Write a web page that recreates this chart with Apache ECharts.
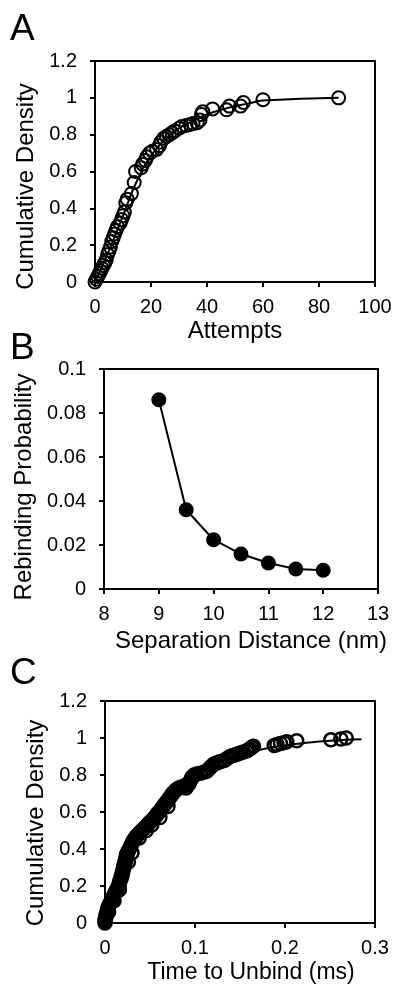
<!DOCTYPE html>
<html>
<head>
<meta charset="utf-8">
<title>Rebinding</title>
<script src="https://cdn.jsdelivr.net/npm/echarts@6.0.0/dist/echarts.min.js"></script>
<style>
html, body { margin: 0; padding: 0; background: #fff; }
#main { width: 393px; height: 988px; }
</style>
</head>
<body>
<div id="main"></div>
<script>
// A: attempts -> cumulative density (open circles + fit)
var attemptsPts = [
    [0,0],[0.5,0.015],[1,0.03],[1.5,0.045],[2,0.06],[2.5,0.075],[3,0.09],[3.5,0.105],
    [4,0.12],[4.5,0.15],[5,0.17],[5.5,0.19],[6,0.22],[6.5,0.24],[7,0.26],[7.5,0.28],
    [8,0.30],[9,0.32],[9.5,0.34],[10,0.36],[10.5,0.38],[11,0.43],[11.5,0.45],[13,0.48],
    [14,0.54],[14.5,0.60],[16.5,0.62],[17,0.64],[18,0.66],[18.5,0.68],[19.5,0.70],[20.5,0.71],
    [22,0.72],[23,0.74],[23.5,0.76],[24.5,0.78],[25.5,0.79],[26.5,0.80],[27.5,0.81],[28.5,0.82],
    [30,0.835],[31,0.845],[32.5,0.85],[34,0.855],[35,0.86],[36.5,0.865],[37.5,0.88],[38,0.91],
    [38.5,0.925],[42,0.94],[47,0.935],[48,0.955],[52,0.955],[53,0.975],[60,0.99],[87,1.0]
];
var attemptsFit = [
    [0,0],[5,0.17],[10,0.36],[15,0.55],[20,0.685],[25,0.775],[30,0.835],[35,0.875],
    [40,0.91],[45,0.935],[50,0.955],[55,0.97],[60,0.985],[87,1.0]
];

// B: separation distance (nm) -> rebinding probability
var sepDistance = [9, 9.5, 10, 10.5, 11, 11.5, 12];
var rebindProb = [0.086, 0.036, 0.0224, 0.0159, 0.0118, 0.0091, 0.0085];

// C: time to unbind (ms) -> cumulative density
var unbindPts = [
    [0,0],[0,0.01],[0,0.02],[0.001,0.03],[0.001,0.04],[0.002,0.05],[0.002,0.06],[0.003,0.07],
    [0.003,0.08],[0.004,0.09],[0.005,0.10],[0.006,0.11],[0.007,0.12],[0.008,0.13],[0.009,0.14],
    [0.010,0.15],[0.011,0.16],[0.012,0.17],[0.013,0.18],[0.014,0.19],[0.015,0.20],[0.016,0.21],
    [0.016,0.22],[0.017,0.23],[0.018,0.24],[0.018,0.25],[0.019,0.26],[0.019,0.27],[0.020,0.28],
    [0.020,0.29],[0.021,0.30],[0.021,0.31],[0.022,0.32],[0.022,0.33],[0.023,0.34],[0.023,0.35],
    [0.024,0.36],[0.024,0.37],[0.025,0.38],[0.026,0.39],[0.027,0.40],[0.028,0.41],[0.029,0.42],
    [0.030,0.43],[0.031,0.44],[0.032,0.45],[0.034,0.46],[0.035,0.47],[0.037,0.48],[0.039,0.49],
    [0.041,0.50],[0.043,0.51],[0.045,0.52],[0.047,0.53],[0.049,0.54],[0.051,0.55],[0.053,0.56],
    [0.055,0.57],[0.057,0.58],[0.058,0.59],[0.060,0.60],[0.062,0.61],[0.063,0.62],[0.065,0.63],
    [0.066,0.64],[0.068,0.65],[0.069,0.66],[0.071,0.67],[0.072,0.68],[0.074,0.69],[0.075,0.70],
    [0.077,0.71],[0.079,0.72],[0.082,0.73],[0.085,0.735],[0.088,0.74],[0.091,0.745],[0.093,0.75],
    [0.094,0.76],[0.095,0.77],[0.096,0.78],[0.097,0.79],[0.099,0.80],[0.102,0.805],[0.106,0.81],
    [0.110,0.815],[0.113,0.82],[0.115,0.83],[0.117,0.84],[0.119,0.85],[0.121,0.86],[0.124,0.865],
    [0.127,0.87],[0.130,0.875],[0.133,0.88],[0.136,0.89],[0.139,0.90],[0.142,0.905],[0.145,0.91],
    [0.148,0.915],[0.151,0.92],[0.154,0.925],[0.157,0.93],[0.159,0.935],[0.161,0.94],[0.163,0.95],
    [0.165,0.955],[0.188,0.96],[0.191,0.965],[0.195,0.97],[0.199,0.975],[0.202,0.98],[0.213,0.985],
    [0.251,0.99],[0.262,0.995],[0.268,1.0],
    // a few stragglers that thicken the band
    [0.004,0.06],[0.010,0.12],[0.016,0.18],[0.026,0.33],[0.030,0.38],[0.038,0.46],[0.046,0.50],
    [0.052,0.53],[0.061,0.57],[0.070,0.63],[0.090,0.73]
];
var unbindFit = [
    [0,0],[0.005,0.08],[0.01,0.16],[0.015,0.23],[0.02,0.29],[0.025,0.36],[0.03,0.42],[0.04,0.49],
    [0.05,0.55],[0.06,0.61],[0.07,0.67],[0.08,0.72],[0.09,0.76],[0.1,0.795],[0.11,0.825],[0.12,0.85],
    [0.14,0.89],[0.16,0.92],[0.18,0.945],[0.2,0.96],[0.22,0.972],[0.25,0.985],[0.285,0.993]
];

var panelLetters = ['A', 'B', 'C'];
var xNames = ['Attempts', 'Separation Distance (nm)', 'Time to Unbind (ms)'];
var yNames = ['Cumulative Density', 'Rebinding Probability', 'Cumulative Density'];

var FONT = '"Liberation Sans", Arial, Helvetica, sans-serif';

var myChart = echarts.init(document.getElementById("main"));

// shared look for every axis; pad nudges the title along the axis
function axis(gridIndex, min, max, step, name, gap, margin, pad, nameSize) {
    return {
        type: 'value',
        gridIndex: gridIndex,
        min: min, max: max, interval: step,
        name: name,
        nameLocation: 'middle',
        nameGap: gap,
        nameTextStyle: { fontSize: nameSize || 24, color: '#000', fontFamily: FONT, padding: pad },
        axisLine: { show: true, onZero: false, lineStyle: { color: '#000', width: 2 } },
        axisTick: { show: true, inside: false, length: 5, lineStyle: { color: '#000', width: 2 } },
        axisLabel: { fontSize: 20, color: '#000', fontFamily: FONT, margin: margin },
        splitLine: { show: false }
    };
}

function frame(left, top, width, height) {
    return {
        left: left, top: top, width: width, height: height,
        show: true, borderColor: '#000', borderWidth: 2,
        backgroundColor: 'transparent',
        outerBoundsMode: 'none'
    };
}

var openCircle = { color: 'rgba(255,255,255,0)', borderColor: '#000', borderWidth: 2, opacity: 1 };

myChart.setOption({
    animation: false,
    textStyle: { fontFamily: FONT },
    grid: [
        frame(95, 61, 280, 221),
        frame(104, 369, 274, 220),
        frame(105, 701, 270, 222)
    ],
    xAxis: [
        axis(0, 0, 100, 20, xNames[0], 37, 15, [0, 0, 0, 0]),
        axis(1, 8, 13, 1, xNames[1], 40, 15, [0, 0, 0, 20]),
        axis(2, 0, 0.3, 0.1, xNames[2], 38, 15, [0, 0, 0, 22], 23)
    ],
    yAxis: [
        axis(0, 0, 1.2, 0.2, yNames[0], 50, 18, [0, 30, 0, 0]),
        axis(1, 0, 0.1, 0.02, yNames[1], 57, 18, [0, 16, 0, 0]),
        axis(2, 0, 1.2, 0.2, yNames[2], 54, 18, [0, 22, 0, 0])
    ],
    graphic: panelLetters.map(function (t, i) {
        return {
            type: 'text',
            left: 10,
            top: [11, 330, 655][i],
            style: { text: t, font: '37px ' + FONT, fill: '#000' }
        };
    }),
    series: [
        {
            type: 'scatter', xAxisIndex: 0, yAxisIndex: 0,
            data: attemptsPts, symbol: 'circle', symbolSize: 13,
            itemStyle: openCircle, emphasis: { disabled: true }
        },
        {
            type: 'line', xAxisIndex: 0, yAxisIndex: 0,
            data: attemptsFit, smooth: true, showSymbol: false, symbol: 'none',
            lineStyle: { color: '#000', width: 2 }, z: 3
        },
        {
            type: 'line', xAxisIndex: 1, yAxisIndex: 1,
            data: sepDistance.map(function (d, i) { return [d, rebindProb[i]]; }),
            symbol: 'circle', symbolSize: 15, showSymbol: true,
            itemStyle: { color: '#000', borderColor: '#000', borderWidth: 0 },
            lineStyle: { color: '#000', width: 2 },
            emphasis: { disabled: true }
        },
        {
            type: 'scatter', xAxisIndex: 2, yAxisIndex: 2,
            data: unbindPts, symbol: 'circle', symbolSize: 13,
            itemStyle: { color: 'rgba(255,255,255,0)', borderColor: '#000', borderWidth: 2.5, opacity: 1 },
            emphasis: { disabled: true }
        },
        {
            type: 'line', xAxisIndex: 2, yAxisIndex: 2,
            data: unbindFit, smooth: true, showSymbol: false, symbol: 'none',
            lineStyle: { color: '#000', width: 2 }, z: 3
        }
    ]
});
</script>
</body>
</html>
